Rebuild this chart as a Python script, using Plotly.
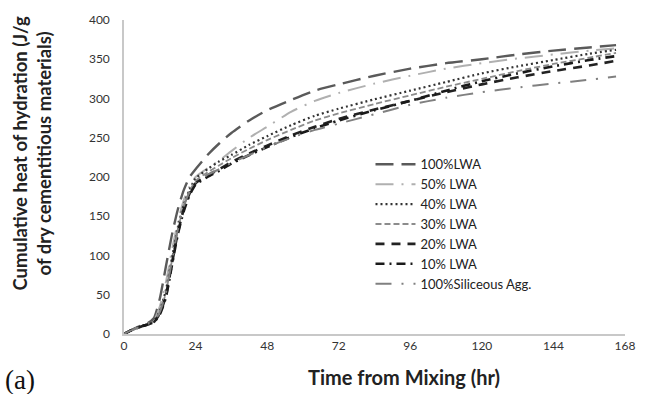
import plotly.graph_objects as go

hours = [0, 2, 4, 6, 8, 10, 12, 14, 16, 18, 20, 22, 24, 28, 32, 36, 42, 48, 56, 64, 72, 84, 96, 108, 120, 132, 144, 156, 165]

lwa100 = [0, 4, 8, 11, 14, 20, 45, 85, 125, 158, 183, 200, 210, 228, 243, 256, 272, 285, 298, 310, 318, 329, 338, 345, 350, 356, 361, 365, 368]
lwa50 = [0, 4, 7, 10, 13, 17, 35, 65, 105, 142, 170, 188, 200, 211, 221, 233, 250, 264, 283, 297, 307, 319, 329, 338, 345, 351, 356, 361, 364]
lwa40 = [0, 4, 7, 10, 13, 16, 30, 55, 95, 135, 164, 184, 198, 210, 220, 228, 241, 252, 266, 278, 287, 299, 310, 321, 332, 341, 349, 357, 362]
lwa30 = [0, 4, 7, 10, 13, 16, 28, 52, 92, 132, 162, 182, 195, 206, 215, 224, 236, 247, 260, 272, 281, 293, 304, 315, 325, 335, 344, 352, 358]
lwa20 = [0, 4, 7, 10, 12, 15, 26, 48, 88, 128, 158, 179, 192, 202, 210, 219, 230, 240, 253, 264, 274, 286, 297, 308, 318, 327, 335, 342, 348]
lwa10 = [0, 4, 7, 10, 12, 15, 25, 46, 86, 126, 156, 177, 190, 200, 208, 217, 228, 238, 251, 262, 272, 285, 297, 310, 322, 332, 341, 349, 354]
siliceous = [0, 4, 7, 10, 13, 16, 28, 52, 92, 132, 162, 181, 193, 203, 210, 218, 228, 238, 250, 260, 268, 280, 292, 301, 308, 314, 319, 324, 328]

names = ["100%LWA", "50% LWA", "40% LWA", "30% LWA", "20% LWA", "10% LWA", "100%Siliceous Agg."]
series = [lwa100, lwa50, lwa40, lwa30, lwa20, lwa10, siliceous]
colors = ["#5a5a5a", "#b0b0b0", "#333333", "#8c8c8c", "#222222", "#1a1a1a", "#808080"]
dashes = ["18px,8px", "18px,8px,2px,8px", "2px,3px", "6px,3px", "9px,7px", "9px,5px,2px,5px", "16px,10px,2px,10px"]
widths = [2.4, 2.0, 2.2, 1.8, 2.6, 2.6, 2.0]

fig = go.Figure()
for n, s, c, d, w in zip(names, series, colors, dashes, widths):
    fig.add_trace(go.Scatter(x=hours, y=s, name=n, mode="lines",
                             line=dict(color=c, dash=d, width=w, shape="spline", smoothing=0.6)))

fig.update_layout(
    width=647, height=394,
    margin=dict(l=124, r=13, t=15, b=60),
    paper_bgcolor="white", plot_bgcolor="white",
    font=dict(family="Lato, Open Sans, sans-serif", color="#333333", size=12),
    showlegend=True,
    legend=dict(x=0.492, y=0.588, xanchor="left", yanchor="top",
                bgcolor="rgba(0,0,0,0)", font=dict(size=13, color="#222222"),
                tracegroupgap=0, itemwidth=40),
    xaxis=dict(range=[0, 168], tickvals=[0, 24, 48, 72, 96, 120, 144, 168],
               showgrid=False, zeroline=False, showline=True, linecolor="#c8c8c8", linewidth=1.5,
               ticks="", tickfont=dict(size=12, color="#333333")),
    yaxis=dict(range=[0, 400], tickvals=[0, 50, 100, 150, 200, 250, 300, 350, 400],
               showgrid=False, zeroline=False, showline=True, linecolor="#c8c8c8", linewidth=1.5,
               ticks="", tickfont=dict(size=12, color="#333333"), ticklabelstandoff=10),
)

fig.add_annotation(text="<b>Time from Mixing (hr)</b>", xref="paper", yref="paper",
                   x=0.558, y=-0.136, xanchor="center", yanchor="middle", showarrow=False,
                   font=dict(size=20, color="#222222"))
fig.add_annotation(text="<b>Cumulative heat of hydration (J/g<br>of dry cementitious materials)</b>",
                   xref="paper", yref="paper", x=-0.184, y=0.574, xanchor="center", yanchor="middle",
                   textangle=-90, showarrow=False, font=dict(size=18.5, color="#222222"))
fig.add_annotation(text="(a)", xref="paper", yref="paper", x=-0.242, y=-0.145,
                   xanchor="left", yanchor="middle", showarrow=False,
                   font=dict(family="Liberation Serif, Times New Roman, serif", size=27, color="#111111"))

fig.write_html("out.html", config={"displayModeBar": False},
               post_script="document.body.style.margin='0px';")
